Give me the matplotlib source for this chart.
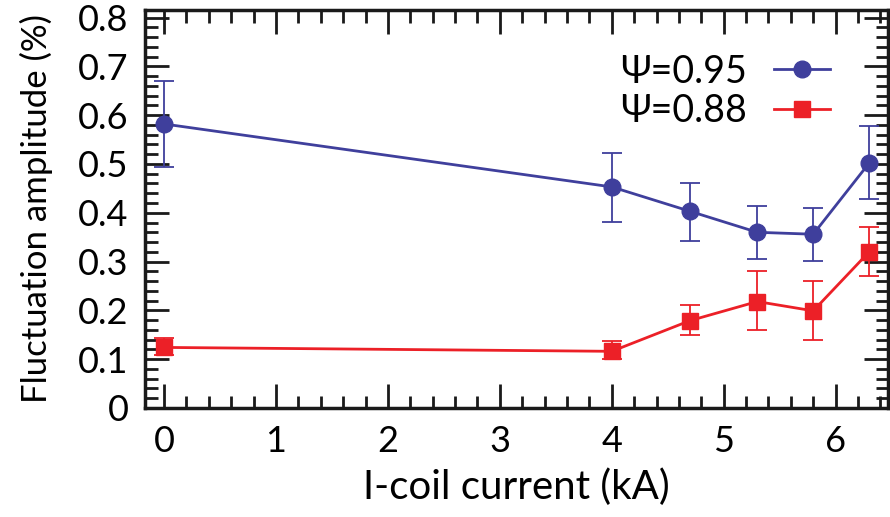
import matplotlib
matplotlib.use("Agg")
import matplotlib.pyplot as plt
from matplotlib.ticker import MultipleLocator
from matplotlib.lines import Line2D
import numpy as np

# data
current = [0, 4, 4.7, 5.3, 5.8, 6.3]
amp_095 = [0.582, 0.453, 0.403, 0.360, 0.356, 0.502]
err_095_lo = [0.494, 0.382, 0.342, 0.305, 0.301, 0.428]
err_095_hi = [0.670, 0.522, 0.462, 0.413, 0.410, 0.577]
amp_088 = [0.124, 0.116, 0.179, 0.218, 0.199, 0.320]
err_088_lo = [0.108, 0.100, 0.149, 0.159, 0.139, 0.271]
err_088_hi = [0.143, 0.137, 0.210, 0.280, 0.261, 0.370]
labels = ["Ψ=0.95", "Ψ=0.88"]

blue = "#3F3F9C"
red = "#EC2027"

plt.rcParams['font.family'] = ['Lato', 'DejaVu Sans']

fig = plt.figure(figsize=(8.9, 5.17), dpi=100)
ax = fig.add_axes([0.163, 0.211, 0.835, 0.770])

def yerr(v, lo, hi):
    v = np.array(v)
    return [v - np.array(lo), np.array(hi) - v]

ax.errorbar(current, amp_095, yerr=yerr(amp_095, err_095_lo, err_095_hi),
            color=blue, marker='o', ms=12, lw=2, elinewidth=1.3,
            capsize=7, capthick=1.3)
ax.errorbar(current, amp_088, yerr=yerr(amp_088, err_088_lo, err_088_hi),
            color=red, marker='s', ms=12, lw=2, elinewidth=1.3,
            capsize=7, capthick=1.3)

ax.set_xlim(-0.17, 6.47)
ax.set_ylim(0, 0.816)
ax.xaxis.set_major_locator(MultipleLocator(1))
ax.xaxis.set_minor_locator(MultipleLocator(0.2))
ax.yaxis.set_minor_locator(MultipleLocator(0.02))
ax.set_yticks(np.arange(0, 0.81, 0.1))
ax.set_yticklabels(["0"] + [f"{v:.1f}" for v in np.arange(0.1, 0.81, 0.1)])

ax.tick_params(which='both', direction='in', top=True, right=True,
               labelsize=26, width=2, color='#1a1a1a')
ax.tick_params(which='major', length=17, pad=12)
ax.tick_params(which='minor', length=9)
for s in ax.spines.values():
    s.set_linewidth(2.5)
    s.set_color('#1a1a1a')

ax.set_xlabel("I-coil current (kA)", fontsize=29, labelpad=8)
ax.set_ylabel("Fluctuation amplitude (%)", fontsize=25, labelpad=18)

handles = [Line2D([], [], color=blue, marker='o', ms=12, lw=2),
           Line2D([], [], color=red, marker='s', ms=12, lw=2)]
ax.legend(handles, labels, loc='upper right', bbox_to_anchor=(0.967, 0.975),
          frameon=False, markerfirst=False, fontsize=27, handlelength=1.5,
          labelspacing=0.1, handletextpad=0.7)

fig.savefig("out.png", dpi=100)
